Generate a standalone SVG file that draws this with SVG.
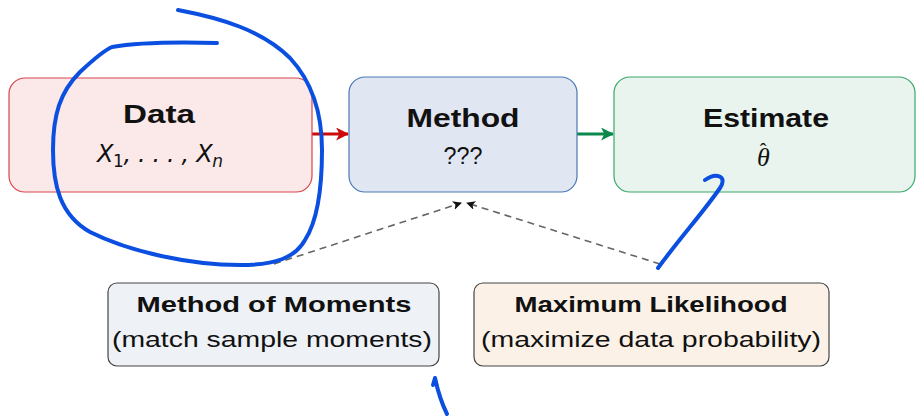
<svg xmlns="http://www.w3.org/2000/svg" width="917" height="417" viewBox="0 0 917 417">
<style>
.t{font-family:"Liberation Sans","DejaVu Sans",sans-serif;fill:#111;text-anchor:middle}
.b{font-weight:bold}
.big{font-size:26px}
.sub{font-size:24px}
.sm{font-size:22px}
.m{font-family:"DejaVu Sans",sans-serif;font-style:italic;fill:#111;text-anchor:middle;font-size:24px}
.ink{fill:none;stroke:#0a4fe0;stroke-width:4;stroke-linecap:round;stroke-linejoin:round}
.dash{fill:none;stroke:#666;stroke-width:1.6;stroke-dasharray:7,5}
</style>
<defs>
<marker id="ar" viewBox="0 0 12 12" refX="11" refY="6" markerWidth="13" markerHeight="13" markerUnits="userSpaceOnUse" orient="auto"><path d="M0,0 L12,6 L0,12 L3,6 Z" fill="#cc0a0a"/></marker>
<marker id="ag" viewBox="0 0 12 12" refX="11" refY="6" markerWidth="13" markerHeight="13" markerUnits="userSpaceOnUse" orient="auto"><path d="M0,0 L12,6 L0,12 L3,6 Z" fill="#0a8a4a"/></marker>
<marker id="ak" viewBox="0 0 10 10" refX="9" refY="5" markerWidth="9" markerHeight="9" markerUnits="userSpaceOnUse" orient="auto"><path d="M0,0 L10,5 L0,10 L2.5,5 Z" fill="#111"/></marker>
</defs>
<g id="connectors">
<line x1="312" y1="134" x2="348" y2="134" stroke="#cc0a0a" stroke-width="3" marker-end="url(#ar)"/>
<line x1="577" y1="134" x2="613" y2="134" stroke="#0a8a4a" stroke-width="3" marker-end="url(#ag)"/>
<path class="dash" d="M274,264 L461,203" marker-end="url(#ak)"/>
<path class="dash" d="M660,264 L467,203" marker-end="url(#ak)"/>
</g>
<g id="data">
<rect x="9" y="78" width="303" height="114" rx="16" fill="#fbe9ea" stroke="#d9444a" stroke-width="1.2"/>
<text class="t b big" x="159" y="123" textLength="72" lengthAdjust="spacingAndGlyphs">Data</text>
<text class="m" x="160" y="162" textLength="126" lengthAdjust="spacing">X<tspan font-style="normal" font-size="17" dy="5">1</tspan><tspan dy="-5">, . . . , X</tspan><tspan font-size="17" dy="5">n</tspan></text>
</g>
<g id="method">
<rect x="349" y="77" width="228" height="115" rx="16" fill="#e1e7f2" stroke="#4a78b4" stroke-width="1.2"/>
<text class="t b big" x="463" y="127" textLength="113" lengthAdjust="spacingAndGlyphs">Method</text>
<text class="t sub" x="463" y="164" textLength="39" lengthAdjust="spacingAndGlyphs">???</text>
</g>
<g id="estimate">
<rect x="614" y="77" width="301" height="115" rx="16" fill="#e8f4ed" stroke="#3aa86b" stroke-width="1.2"/>
<text class="t b big" x="766" y="127" textLength="126" lengthAdjust="spacingAndGlyphs">Estimate</text>
<text x="757" y="166" font-family="'Liberation Serif',serif" font-style="italic" font-size="26" fill="#111">θ<tspan font-style="normal" font-size="20" dx="-10" dy="-8">ˆ</tspan></text>
</g>
<g id="mom">
<rect x="108" y="283" width="331" height="83" rx="9" fill="#eef1f6" stroke="#444" stroke-width="1.2"/>
<text class="t b sm" x="274" y="312" textLength="275" lengthAdjust="spacingAndGlyphs">Method of Moments</text>
<text class="t sm" x="272" y="347" textLength="320" lengthAdjust="spacingAndGlyphs">(match sample moments)</text>
</g>
<g id="ml">
<rect x="474" y="283" width="355" height="83" rx="9" fill="#fcf1e6" stroke="#444" stroke-width="1.2"/>
<text class="t b sm" x="651" y="312" textLength="273" lengthAdjust="spacingAndGlyphs">Maximum Likelihood</text>
<text class="t sm" x="651" y="347" textLength="340" lengthAdjust="spacingAndGlyphs">(maximize data probability)</text>
</g>
<g id="annotations">
<path class="ink" d="M178,10 C220,18 262,30 290,58 C315,85 322,120 322,150 C322,185 318,220 305,240 C295,258 275,265 240,265 C190,265 130,252 90,232 C60,215 53,185 53,150 C53,115 60,92 80,72 C95,58 105,50 112,47 C140,42 180,42 217,43"/>
<path class="ink" d="M658,268 C680,238 705,210 720,188 C728,176 716,172 705,180"/>
<path class="ink" d="M433,385 L435,378 C438,392 442,404 447,414"/>
</g>
</svg>
